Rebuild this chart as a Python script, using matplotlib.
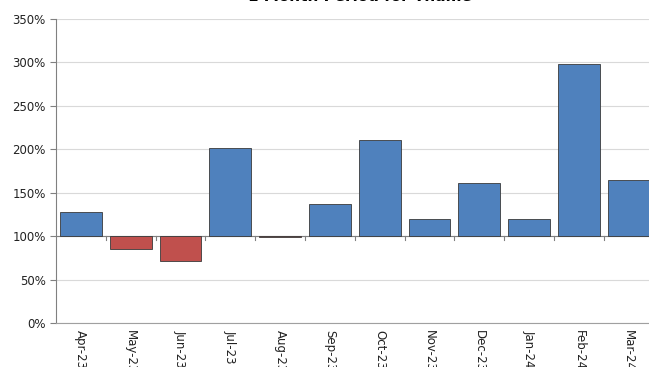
import numpy as np
import matplotlib
matplotlib.use("Agg")
import matplotlib.pyplot as plt

# Monthly values (percent, baseline 100%)
months = ["Apr-23", "May-23", "Jun-23", "Jul-23", "Aug-23", "Sep-23",
          "Oct-23", "Nov-23", "Dec-23", "Jan-24", "Feb-24", "Mar-24"]
values = [128, 85, 71, 201, 99, 137, 211, 120, 161, 120, 298, 165]
baseline = 100

blue = "#4F81BD"
red = "#C0504D"

fig = plt.figure(figsize=(6.49, 3.67), dpi=100)
ax = fig.add_axes([56 / 649, 1 - 323 / 367, 12 * 49.8 / 649, 304 / 367])

x = np.arange(len(months))
heights = [v - baseline for v in values]
colors = [blue if v >= baseline else red for v in values]
ax.bar(x, heights, bottom=baseline, width=0.84, color=colors,
       edgecolor="#3a3a3a", linewidth=0.6, zorder=3)

ax.set_xlim(-0.5, len(months) - 0.5)
ax.set_ylim(0, 350)
ax.set_yticks(range(0, 351, 50))
ax.set_yticklabels([f"{t}%" for t in range(0, 351, 50)], fontsize=8.5, color="#222222")
ax.grid(axis="y", color="#d9d9d9", linewidth=0.8, zorder=0)

# category axis crosses at 100%
ax.axhline(baseline, color="#808080", linewidth=0.8, zorder=2)
for b in np.arange(0.5, len(months) - 0.5, 1):
    ax.plot([b, b], [baseline, baseline - 4], color="#808080", linewidth=0.8, zorder=2)

ax.set_xticks(x)
ax.set_xticklabels(months, rotation=270, fontsize=8.5, color="#222222")
ax.tick_params(axis="x", length=0, pad=5)
ax.tick_params(axis="y", length=4, color="#808080", width=0.8)

for side in ["top", "right"]:
    ax.spines[side].set_visible(False)
ax.spines["left"].set_color("#808080")
ax.spines["bottom"].set_color("#a0a0a0")

fig.text(0.555, 1.009, "1 Month Period for Thame", ha="center", va="center",
         fontsize=11, fontweight="bold")

fig.savefig("out.png", dpi=100)
